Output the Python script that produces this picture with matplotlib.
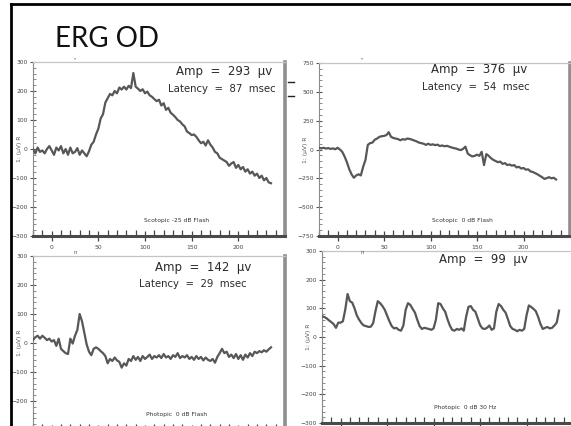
import matplotlib
matplotlib.use("Agg")
import matplotlib.pyplot as plt
import numpy as np
from matplotlib.lines import Line2D
from matplotlib.ticker import MultipleLocator

# ---- recorded traces (µV), sampled every 2.5 ms starting at -20 ms ----
T0, DT = -20.0, 2.5

scotopic_m25 = [
    0, -15, 5, -10, -5, -15, 0, 10, -5, -20, 5, -5, 10, -15, 0, -20, 5, -15, -10, 3,
    -20, -5, -15, -25, -8, 15, 25, 50, 70, 105, 120, 160, 175, 190, 185, 200, 192, 212,
    205, 215, 205, 218, 210, 262, 215, 208, 200, 206, 192, 198, 185, 180, 172, 165, 170,
    150, 158, 135, 142, 125, 118, 110, 100, 95, 85, 78, 60, 55, 48, 50, 42, 30, 20, 25,
    12, 30, 15, 5, -10, -15, -30, -35, -40, -45, -58, -50, -45, -65, -55, -70, -62, -78,
    -70, -85, -78, -92, -85, -100, -92, -108, -100, -115, -118,
]

scotopic_0 = [
    15, 10, 15, 8, 12, 5, 10, 2, 15, 0, -20, -60, -110, -170, -215, -245, -225, -215,
    -225, -150, -90, 40, 55, 60, 85, 95, 110, 115, 118, 125, 150, 110, 100, 95, 90, 80,
    90, 85, 95, 92, 85, 78, 70, 60, 55, 50, 40, 50, 40, 45, 38, 42, 30, 35, 28, 32, 25,
    18, 12, 8, 0, -5, 5, 25, -35, -50, -60, -55, -45, -55, -20, -135, -40, -55, -75, -90,
    -100, -110, -105, -125, -118, -135, -130, -140, -135, -155, -150, -165, -160, -175,
    -172, -190, -195, -205, -215, -228, -240, -255, -248, -240, -250, -245, -260,
]

photopic_flash = [
    10, 20, 25, 15, 25, 18, 10, 15, 5, 10, -10, 15, -20, -28, -35, -38, 15, -2, 25, 45,
    100, 75, 35, -5, -30, -42, -20, -15, -20, -28, -35, -45, -70, -55, -62, -50, -60,
    -65, -85, -70, -78, -55, -62, -45, -58, -48, -62, -45, -55, -48, -40, -55, -45, -50,
    -42, -52, -38, -50, -45, -55, -42, -48, -35, -52, -45, -50, -42, -55, -48, -58, -45,
    -55, -48, -60, -50, -58, -62, -55, -68, -48, -35, -20, -35, -30, -48, -40, -52, -38,
    -55, -42, -58, -40, -50, -35, -45, -30, -35, -28, -32, -25, -30, -22, -15,
]

photopic_30hz = [
    72, 70, 65, 58, 52, 45, 32, 50, 50, 55, 95, 150, 125, 120, 100, 75, 60, 48, 40, 38,
    35, 36, 48, 90, 125, 118, 108, 95, 75, 55, 38, 30, 32, 25, 22, 40, 95, 118, 112, 98,
    85, 60, 38, 28, 32, 30, 28, 25, 30, 60, 118, 115, 100, 88, 62, 40, 25, 22, 28, 25,
    30, 22, 70, 105, 108, 95, 88, 65, 42, 30, 28, 32, 40, 25, 30, 88, 115, 108, 95, 85,
    62, 38, 28, 25, 20, 25, 22, 28, 75, 110, 105, 98, 90, 70, 45, 28, 32, 35, 30, 32,
    40, 50, 92,
]

panel_titles = ["Scotopic -25 dB Flash", "Scotopic  0 dB Flash",
                "Photopic  0 dB Flash", "Photopic  0 dB 30 Hz"]
amp_notes = ["Amp  =  293  µv", "Amp  =  376  µv", "Amp  =  142  µv", "Amp  =  99  µv"]
latency_notes = ["Latency  =  87  msec", "Latency  =  54  msec",
                 "Latency  =  29  msec", None]
y_limits = [(-300, 300), (-750, 750), (-300, 300), (-300, 300)]
y_ticks = [
    [-300, -200, -100, 0, 100, 200, 300],
    [-750, -500, -250, 0, 250, 500, 750],
    [-200, -100, 0, 100, 200, 300],
    [-300, -200, -100, 0, 100, 200, 300],
]
y_minor = [20, 50, 20, 20]
x_ticks = [0, 50, 100, 150, 200]

W, H = 571, 426
fig = plt.figure(figsize=(W / 100, H / 100), dpi=100)
fig.patch.set_facecolor("white")

SMALL = ["Liberation Sans Narrow", "DejaVu Sans"]
HAND = ["DejaVu Sans"]
TRACE = "#575757"


def px_rect(x0, y0, x1, y1):
    return [x0 / W, 1 - y1 / H, (x1 - x0) / W, (y1 - y0) / H]


def make_panel(box, values, ylim, yticks, ymin, title, show_xlabels):
    ax = fig.add_axes(px_rect(*box))
    ax.set_facecolor("white")
    t = T0 + DT * np.arange(len(values))
    ax.plot(t, values, color=TRACE, lw=1.6, solid_joinstyle="round", zorder=3)
    ax.set_xlim(-20, 250)
    ax.set_ylim(*ylim)
    ax.set_xticks(x_ticks)
    ax.xaxis.set_minor_locator(MultipleLocator(10))
    ax.set_yticks(yticks)
    ax.yaxis.set_minor_locator(MultipleLocator(ymin))
    ax.tick_params(which="major", direction="inout", length=4.5, width=0.8,
                   color="#555555", labelsize=4.3, labelcolor="#444444", pad=1.5)
    ax.tick_params(which="minor", direction="in", length=2.5, width=0.6,
                   color="#777777")
    ax.tick_params(axis="x", which="both", direction="in", length=4, width=0.9,
                   color="#444444", labelbottom=show_xlabels)
    ax.tick_params(axis="x", which="major", direction="inout", length=7, pad=3)
    for lab in ax.get_xticklabels() + ax.get_yticklabels():
        lab.set_family(SMALL)
    ax.spines["left"].set_color("#8a8a8a")
    ax.spines["left"].set_linewidth(0.8)
    ax.spines["top"].set_color("#c4c4c4")
    ax.spines["top"].set_linewidth(0.9)
    ax.spines["right"].set_color("#8f8f8f")
    ax.spines["right"].set_linewidth(2.6)
    ax.spines["bottom"].set_color("#4a4a4a")
    ax.spines["bottom"].set_linewidth(2.2)
    ax.set_ylabel("1: (µV) R", fontsize=4.3, color="#555555", family=SMALL)
    ax.yaxis.set_label_coords(-0.045, 0.5)
    ax.text(0.57, 0.09, title, transform=ax.transAxes, ha="center",
            va="center", fontsize=4.3, color="#333333", family=SMALL)
    return ax


boxes = [(33, 62, 285, 236), (319, 63, 570, 236),
         (33, 256, 285, 430), (322, 251, 573, 423)]
traces = [scotopic_m25, scotopic_0, photopic_flash, photopic_30hz]
show_labels = [True, True, False, False]

axes = []
for i in range(4):
    axes.append(make_panel(boxes[i], traces[i], y_limits[i], y_ticks[i],
                           y_minor[i], panel_titles[i], show_labels[i]))

# stimulus markers
for x, y in [(75, 60), (362, 60)]:
    fig.text(x / W, 1 - y / H, "''", fontsize=4, color="#666666", ha="center",
             va="center")
for x, y in [(75, 253), (362, 253)]:
    fig.text(x / W, 1 - y / H, "n", fontsize=4, color="#555555", ha="center",
             va="center", zorder=0)

# short ruler marks beside the first panel
for y in (82, 96):
    fig.add_artist(Line2D([288 / W, 294 / W], [1 - y / H, 1 - y / H],
                          transform=fig.transFigure, color="#222222", lw=1.0))

# handwritten notes
note_pos = [((224, 72), (222, 89)), ((479, 70), (476, 87)),
            ((203, 267), (193, 284)), ((483, 260), None)]
for i in range(4):
    (ax_, ay_), lat = note_pos[i]
    fig.text(ax_ / W, 1 - ay_ / H, amp_notes[i], fontsize=8.5, color="#2a2a2a",
             family=HAND, ha="center", va="center")
    if latency_notes[i] is not None:
        lx, ly = lat
        fig.text(lx / W, 1 - ly / H, latency_notes[i], fontsize=7.3,
                 color="#2a2a2a", family=HAND, ha="center", va="center")

# slide title and frame
fig.text(55 / W, 1 - 47 / H, "ERG OD", fontsize=20, family=["Lato", "DejaVu Sans"],
         color="#111111", va="baseline", ha="left")
fig.add_artist(Line2D([11 / W, 11 / W], [0, 1 - 4 / H], transform=fig.transFigure,
                      color="black", lw=2.0))
fig.add_artist(Line2D([11 / W, 1], [1 - 4 / H, 1 - 4 / H], transform=fig.transFigure,
                      color="black", lw=2.0))

fig.savefig("out.png", dpi=100, facecolor="white")
